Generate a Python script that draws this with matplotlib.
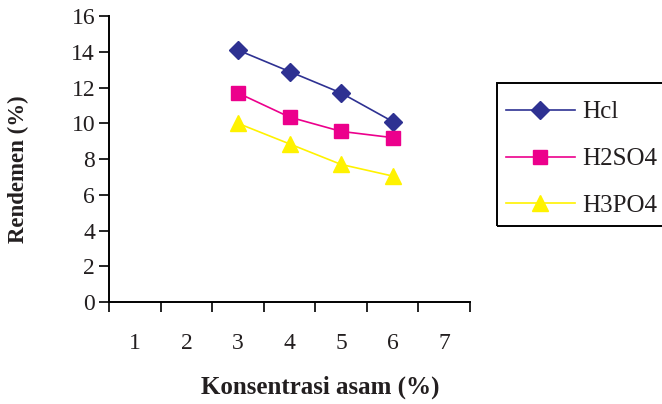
import matplotlib
matplotlib.use('Agg')
import matplotlib.pyplot as plt
from matplotlib.patches import Rectangle
import numpy as np

plt.rcParams['font.family'] = ['Liberation Serif', 'DejaVu Serif']

categories = ['1', '2', '3', '4', '5', '6', '7']
konsentrasi = [3, 4, 5, 6]
hcl = [14.1, 12.9, 11.7, 10.1]
h2so4 = [11.7, 10.35, 9.55, 9.2]
h3po4 = [10.0, 8.85, 7.7, 7.05]

text_color = '#231F20'
W, H = 662, 404

fig = plt.figure(figsize=(6.62, 4.04), dpi=100)
ax = fig.add_axes([0.1647, 0.2525, 0.5453, 0.7075])

ax.plot(konsentrasi, hcl, color='#2E3192', lw=1.2, marker='D', ms=9,
        label='Hcl')
ax.plot(konsentrasi, h2so4, color='#EC008C', lw=1.2, marker='s', ms=9.5,
        label='H2SO4')
ax.plot(konsentrasi, h3po4, color='#FFF200', lw=1.2, marker='^', ms=12,
        label='H3PO4')

ax.set_xlim(0.5, len(categories) + 0.5)
ax.set_ylim(0, 16)

# category boundaries get the tick marks, centres get the labels
ax.set_xticks(np.arange(0.5, len(categories) + 1, 1.0))
ax.set_xticklabels([])
ax.set_xticks(np.arange(1, len(categories) + 1), minor=True)
ax.set_xticklabels(categories, minor=True)
ax.tick_params(axis='x', which='major', direction='out', length=7,
               width=1.2, color='black')
ax.tick_params(axis='x', which='minor', length=0, pad=22,
               labelsize=17, labelcolor=text_color)

ax.set_yticks(np.arange(0, 17, 2))
ax.tick_params(axis='y', direction='out', length=7, width=1.2,
               color='black', labelsize=17, labelcolor=text_color, pad=3)

for side in ['top', 'right']:
    ax.spines[side].set_visible(False)
for side in ['left', 'bottom']:
    ax.spines[side].set_linewidth(1.4)
    ax.spines[side].set_color('black')

fig.text(320 / W, 1 - 387 / H, 'Konsentrasi asam (%)', fontsize=18,
         fontweight='bold', color=text_color, ha='center', va='center')
fig.text(18 / W, 1 - 169 / H, 'Rendemen (%)', fontsize=16.5,
         fontweight='bold', color=text_color, ha='center', va='center',
         rotation=90)

# legend entries without their own frame; the box is drawn separately
leg = ax.legend(loc='upper left', bbox_to_anchor=(506 / W, 1 - 101 / H),
                bbox_transform=fig.transFigure, fontsize=18, frameon=False,
                handlelength=2.75, handletextpad=0.3, labelspacing=0.97,
                borderpad=0, borderaxespad=0)
for t in leg.get_texts():
    t.set_color(text_color)

box = Rectangle((497 / W, 1 - 226 / H), 175 / W, 143 / H, fill=False,
                lw=1.4, edgecolor='black', transform=fig.transFigure,
                clip_on=False)
fig.add_artist(box)

plt.savefig('out.png', dpi=100)
plt.close()
